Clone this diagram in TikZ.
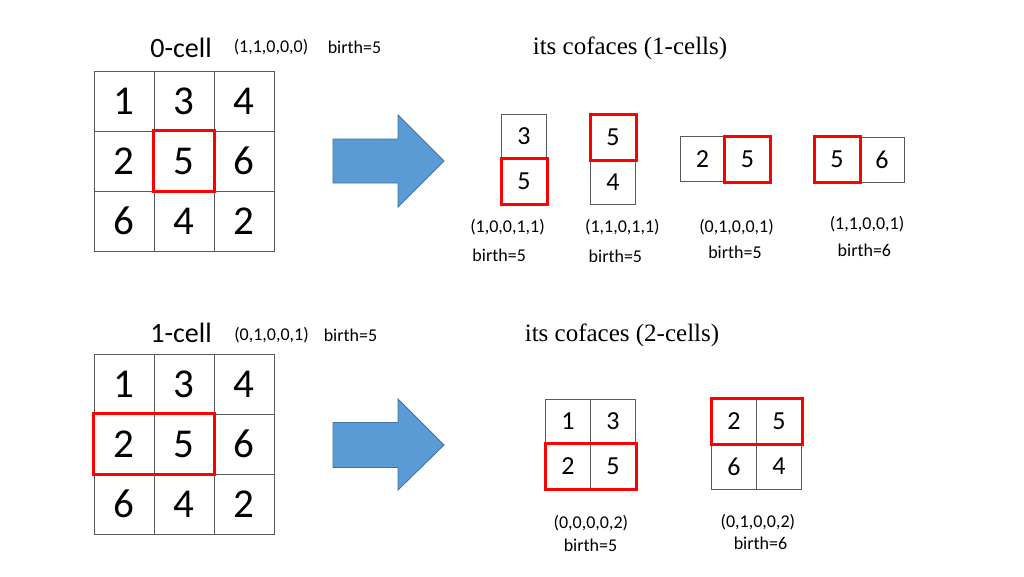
\documentclass[tikz,border=0pt]{standalone}
\usepackage{fontspec}
\setmainfont{Carlito}
\newfontfamily\serifheading{Liberation Serif}
\definecolor{gridgray}{HTML}{595959}
\definecolor{arrowblue}{HTML}{5B9BD5}
\definecolor{arrowedge}{HTML}{41719C}
\begin{document}
\begin{tikzpicture}[x=1pt,y=-1pt,
  cellbig/.style={draw=gridgray, line width=1pt, minimum size=60pt, inner sep=0pt, font=\fontsize{41}{41}\selectfont},
  cellsmall/.style={draw=gridgray, line width=1pt, minimum size=45pt, inner sep=0pt, font=\fontsize{26}{26}\selectfont},
  redbox/.style={draw=red, line width=3pt},
  lbl/.style={font=\fontsize{18}{18}\selectfont, inner sep=0pt},
  celltitle/.style={font=\fontsize{28}{28}\selectfont, inner sep=0pt},
  serifhead/.style={font=\serifheading\fontsize{25}{25}\selectfont, inner sep=0pt},
  bigarrow/.style={fill=arrowblue, draw=arrowedge, line width=0.8pt}]
\fill[white] (0,0) rectangle (1024,576);
\useasboundingbox (0,0) rectangle (1024,576);

% ---------- top row ----------
\node[celltitle] (t0) at (181,48) {0-cell};
\node[lbl] (t0v) at (271,47) {(1,1,0,0,0)};
\node[lbl] (t0b) at (354.5,47) {birth=5};

\foreach \r/\y in {1/101,2/161,3/221}{
  \foreach \c/\x in {1/124,2/184,3/244}{
    \coordinate (ta\r\c) at (\x,\y);
  }
}
\node[cellbig] (a11) at (ta11) {1};
\node[cellbig] (a12) at (ta12) {3};
\node[cellbig] (a13) at (ta13) {4};
\node[cellbig] (a21) at (ta21) {2};
\node[cellbig] (a22) at (ta22) {5};
\node[cellbig] (a23) at (ta23) {6};
\node[cellbig] (a31) at (ta31) {6};
\node[cellbig] (a32) at (ta32) {4};
\node[cellbig] (a33) at (ta33) {2};
\draw[redbox] (a22.north west) rectangle (a22.south east);

\draw[bigarrow] (333,139) -- (398,139) -- (398,115) -- (444,161) -- (398,207) -- (398,183) -- (333,183) -- cycle;

\node[serifhead] (h1) at (630,48) {its cofaces (1-cells)};

% coface A
\node[cellsmall] (A1) at (524,136.5) {3};
\node[cellsmall] (A2) at (524,181.5) {5};
\draw[redbox] (A2.north west) rectangle (A2.south east);
\node[lbl] (Av) at (507.5,226.7) {(1,0,0,1,1)};
\node[lbl] (Ab) at (499.2,255) {birth=5};
% coface B
\node[cellsmall] (B1) at (613,137) {5};
\node[cellsmall] (B2) at (613,182) {4};
\draw[redbox] (B1.north west) rectangle (B1.south east);
\node[lbl] (Bv) at (622.3,226.7) {(1,1,0,1,1)};
\node[lbl] (Bb) at (615.4,256) {birth=5};
% coface C
\node[cellsmall] (C1) at (702.5,159) {2};
\node[cellsmall] (C2) at (747.5,159) {5};
\draw[redbox] (C2.north west) rectangle (C2.south east);
\node[lbl] (Cv) at (736.5,226.7) {(0,1,0,0,1)};
\node[lbl] (Cb) at (735,252.7) {birth=5};
% coface D
\node[cellsmall] (D1) at (837,159.5) {5};
\node[cellsmall] (D2) at (882,159.5) {6};
\draw[redbox] (D1.north west) rectangle (D1.south east);
\node[lbl] (Dv) at (867,224) {(1,1,0,0,1)};
\node[lbl] (Db) at (864.4,250) {birth=6};

% ---------- bottom row ----------
\node[celltitle] (t1) at (181,333) {1-cell};
\node[lbl] (t1v) at (271.5,335) {(0,1,0,0,1)};
\node[lbl] (t1b) at (350.5,335) {birth=5};

\node[cellbig] (b11) at (124,384) {1};
\node[cellbig] (b12) at (184,384) {3};
\node[cellbig] (b13) at (244,384) {4};
\node[cellbig] (b21) at (124,444) {2};
\node[cellbig] (b22) at (184,444) {5};
\node[cellbig] (b23) at (244,444) {6};
\node[cellbig] (b31) at (124,504) {6};
\node[cellbig] (b32) at (184,504) {4};
\node[cellbig] (b33) at (244,504) {2};
\draw[redbox] (b21.north west) rectangle (b22.south east);

\draw[bigarrow] (333,422.5) -- (398,422.5) -- (398,399) -- (444,445) -- (398,490) -- (398,467.5) -- (333,467.5) -- cycle;

\node[serifhead] (h2) at (622,335) {its cofaces (2-cells)};

% coface E
\node[cellsmall] (E11) at (568,421.5) {1};
\node[cellsmall] (E12) at (613,421.5) {3};
\node[cellsmall] (E21) at (568,466.5) {2};
\node[cellsmall] (E22) at (613,466.5) {5};
\draw[redbox] (E21.north west) rectangle (E22.south east);
\node[lbl] (Ev) at (590.9,523.3) {(0,0,0,0,2)};
\node[lbl] (Eb) at (590.5,545) {birth=5};
% coface F
\node[cellsmall] (F11) at (734,421.5) {2};
\node[cellsmall] (F12) at (779,421.5) {5};
\node[cellsmall] (F21) at (734,466.5) {6};
\node[cellsmall] (F22) at (779,466.5) {4};
\draw[redbox] (F11.north west) rectangle (F12.south east);
\node[lbl] (Fv) at (757.9,521.7) {(0,1,0,0,2)};
\node[lbl] (Fb) at (760.5,543.3) {birth=6};
\end{tikzpicture}
\end{document}
